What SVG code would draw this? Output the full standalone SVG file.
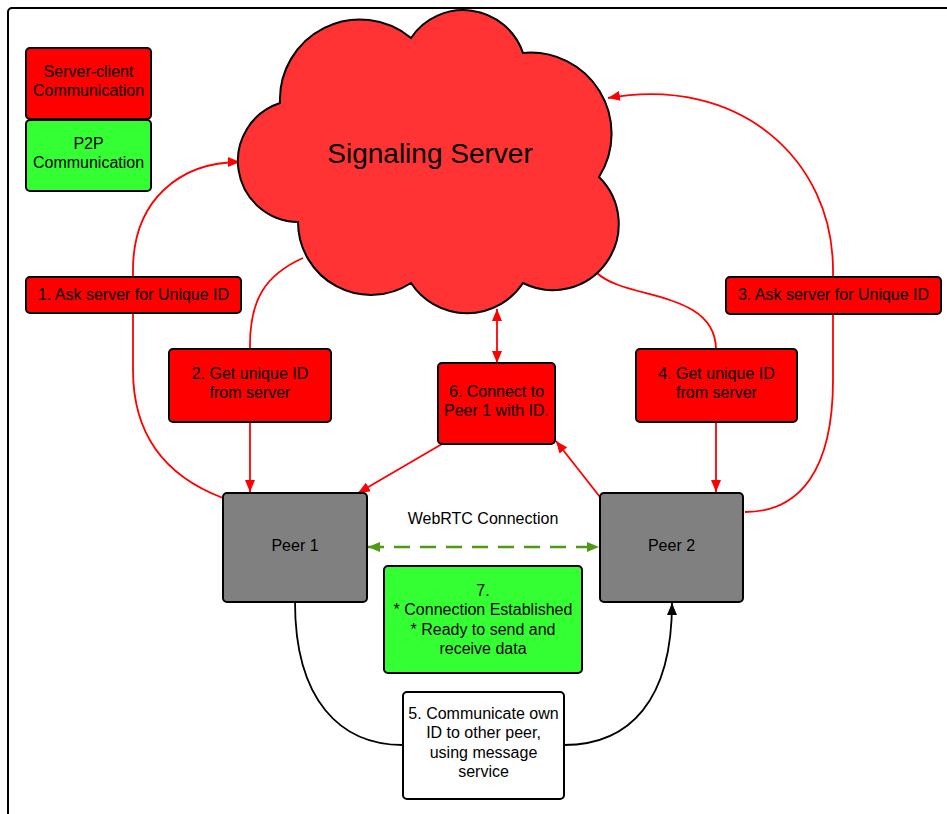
<svg xmlns="http://www.w3.org/2000/svg" width="947" height="814" viewBox="0 0 947 814">
  <style>
    text { font-family: "Liberation Sans", Arial, sans-serif; font-size: 16px; fill: #000; text-anchor: middle; }
    .box { stroke: #000; stroke-width: 2; }
    .red { fill: #ff0000; }
    .green { fill: #33ff33; }
    .grey { fill: #808080; }
    .white { fill: #ffffff; }
    .wire-red { fill: none; stroke: #ff0000; stroke-width: 1.8; }
    .wire-black { fill: none; stroke: #000; stroke-width: 1.8; }
    .wire-green { fill: none; stroke: #4f9a12; stroke-width: 2.5; stroke-dasharray: 16 10; }
  </style>
  <defs>
    <marker id="arrow-red" markerUnits="userSpaceOnUse" markerWidth="13" markerHeight="10" refX="12" refY="5" orient="auto-start-reverse">
      <path d="M0,0 L12,5 L0,10 z" fill="#ff0000"/>
    </marker>
    <marker id="arrow-black" markerUnits="userSpaceOnUse" markerWidth="13" markerHeight="10" refX="12" refY="5" orient="auto-start-reverse">
      <path d="M0,0 L12,5 L0,10 z" fill="#000"/>
    </marker>
    <marker id="arrow-green" markerUnits="userSpaceOnUse" markerWidth="13" markerHeight="10" refX="12" refY="5" orient="auto-start-reverse">
      <path d="M0,0 L12,5 L0,10 z" fill="#4f9a12"/>
    </marker>
  </defs>

  <rect width="947" height="814" fill="#ffffff"/>
  <!-- page frame -->
  <rect x="8" y="8" width="1000" height="900" rx="4" fill="none" stroke="#000" stroke-width="2"/>

  <g id="connectors">
    <!-- 1. ask server (peer 1) -->
    <path class="wire-red" d="M223,498 C170,478 133,440 133,370 L133,270 C133,200 180,162 240,162" marker-end="url(#arrow-red)"/>
    <!-- 2. unique id to peer 1 -->
    <path class="wire-red" d="M303,258 C265,275 250,300 250,345 L250,492" marker-end="url(#arrow-red)"/>
    <!-- 3. ask server (peer 2) -->
    <path class="wire-red" d="M745,512 C800,512 833,470 833,380 L833,270 C833,160 740,75 608,98" marker-end="url(#arrow-red)"/>
    <!-- 4. unique id to peer 2 -->
    <path class="wire-red" d="M597,273 C625,300 715,290 716,349 L716,492" marker-end="url(#arrow-red)"/>
    <!-- 6. server <-> connect box -->
    <path class="wire-red" d="M497,309 L497,363" marker-start="url(#arrow-red)" marker-end="url(#arrow-red)"/>
    <path class="wire-red" d="M442,444 L358,493" marker-end="url(#arrow-red)"/>
    <path class="wire-red" d="M600,497 L556,441" marker-end="url(#arrow-red)"/>
    <!-- WebRTC link -->
    <path class="wire-green" d="M368,547 L599,547" marker-start="url(#arrow-green)" marker-end="url(#arrow-green)"/>
    <!-- 5. message service -->
    <path class="wire-black" d="M295,602 C295,700 340,745 403,745"/>
    <path class="wire-black" d="M564,745 C630,745 672,700 672,603" marker-end="url(#arrow-black)"/>
  </g>

  <g id="legend-server-client">
    <rect class="box red" x="26" y="48" width="125" height="71" rx="4"/>
    <text x="88.5" y="77">Server-client</text>
    <text x="88.5" y="96">Communication</text>
  </g>
  <g id="legend-p2p">
    <rect class="box green" x="26" y="120" width="125" height="71" rx="4"/>
    <text x="88.5" y="149">P2P</text>
    <text x="88.5" y="168">Communication</text>
  </g>

  <g id="signaling-server">
    <path d="M280,103 A80,80 0 0 1 411,38 A63,63 0 0 1 523,53 A81,81 0 0 1 599,177 A66,66 0 0 1 523,283 A67,67 0 0 1 411,283 A73,73 0 0 1 298,222 A61,61 0 0 1 280,103 Z" fill="#ff3333" stroke="#000" stroke-width="2"/>
    <text x="430" y="163" style="font-size:28px">Signaling Server</text>
  </g>

  <g id="step1">
    <rect class="box red" x="26" y="277" width="215" height="36" rx="4"/>
    <text x="133.5" y="300">1. Ask server for Unique ID</text>
  </g>
  <g id="step2">
    <rect class="box red" x="169" y="349" width="162" height="73" rx="4"/>
    <text x="250" y="379">2. Get unique ID</text>
    <text x="250" y="398">from server</text>
  </g>
  <g id="step3">
    <rect class="box red" x="726" y="277" width="215" height="37" rx="4"/>
    <text x="833.5" y="300">3. Ask server for Unique ID</text>
  </g>
  <g id="step4">
    <rect class="box red" x="636" y="349" width="161" height="73" rx="4"/>
    <text x="716.5" y="379">4. Get unique ID</text>
    <text x="716.5" y="398">from server</text>
  </g>
  <g id="step6">
    <rect class="box red" x="438" y="363" width="117" height="81" rx="4"/>
    <text x="496.5" y="397">6. Connect to</text>
    <text x="496.5" y="416">Peer 1 with ID.</text>
  </g>
  <g id="peer1">
    <rect class="box grey" x="223" y="493" width="144" height="109" rx="4"/>
    <text x="295" y="551">Peer 1</text>
  </g>
  <g id="peer2">
    <rect class="box grey" x="600" y="493" width="143" height="109" rx="4"/>
    <text x="671.5" y="551">Peer 2</text>
  </g>
  <g id="webrtc-label">
    <text x="483" y="524">WebRTC Connection</text>
  </g>
  <g id="step7">
    <rect class="box green" x="384" y="566" width="198" height="107" rx="4"/>
    <text x="483" y="596">7.</text>
    <text x="483" y="615">* Connection Established</text>
    <text x="483" y="635">* Ready to send and</text>
    <text x="483" y="654">receive data</text>
  </g>
  <g id="step5">
    <rect class="box white" x="403" y="692" width="161" height="107" rx="4"/>
    <text x="483.5" y="719">5. Communicate own</text>
    <text x="483.5" y="738">ID to other peer,</text>
    <text x="483.5" y="758">using message</text>
    <text x="483.5" y="777">service</text>
  </g>
</svg>
